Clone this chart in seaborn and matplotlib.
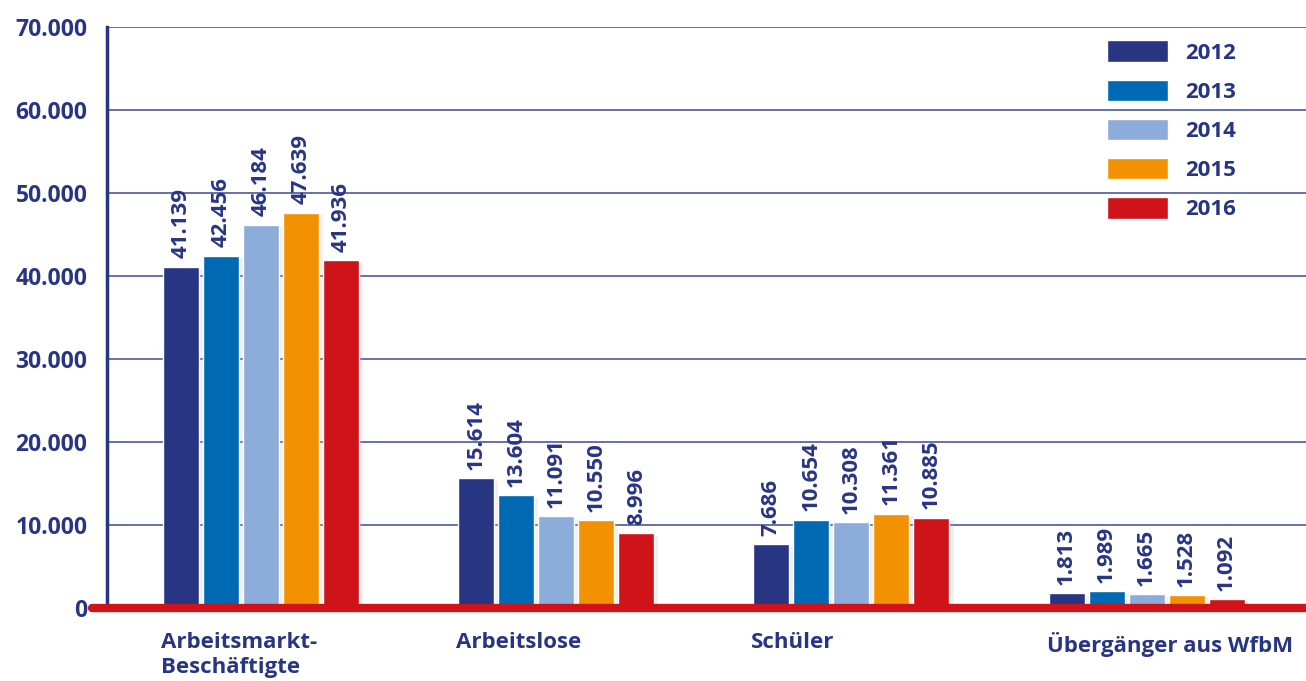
import numpy as np
import pandas as pd
import matplotlib
matplotlib.use('Agg')
import matplotlib.pyplot as plt
import matplotlib.patheffects as pe
import matplotlib.transforms as mtransforms
import seaborn as sns

categories = ['Arbeitsmarkt-\nBeschäftigte', 'Arbeitslose', 'Schüler', 'Übergänger aus WfbM']
years = ['2012', '2013', '2014', '2015', '2016']
values_2012 = [41139, 15614, 7686, 1813]
values_2013 = [42456, 13604, 10654, 1989]
values_2014 = [46184, 11091, 10308, 1665]
values_2015 = [47639, 10550, 11361, 1528]
values_2016 = [41936, 8996, 10885, 1092]
year_colors = ['#283583', '#0069b4', '#8cacd9', '#f39200', '#cf1419']
yticks = [0, 10000, 20000, 30000, 40000, 50000, 60000, 70000]

navy = '#283583'
red = '#cf1419'

def fmt(v):
    return f"{int(v):,}".replace(',', '.')

# Tabelle fuer seaborn
series = [values_2012, values_2013, values_2014, values_2015, values_2016]
rows = []
for y, vals in zip(years, series):
    for c, v in zip(categories, vals):
        rows.append({'Kategorie': c, 'Jahr': y, 'Wert': v})
df = pd.DataFrame(rows)

sns.set_style('white')
plt.rcParams['font.family'] = ['Open Sans', 'DejaVu Sans']
plt.rcParams['font.weight'] = 'bold'

fig = plt.figure(figsize=(13.06, 6.81), dpi=100)
ax = fig.add_axes([0.0819, 0.1072, 0.9181, 0.8532])

group_w = 0.678
sns.barplot(data=df, x='Kategorie', y='Wert', hue='Jahr', order=categories,
            hue_order=years, palette=year_colors, width=group_w, gap=0.1,
            saturation=1, ax=ax, zorder=3)

# sehr leichter Schatten neben den Balken
for p in ax.patches:
    p.set_path_effects([pe.SimplePatchShadow(offset=(3, -2), shadow_rgbFace='#b0b0b0', alpha=0.18),
                        pe.Normal()])

for cont, vals in zip(ax.containers, series):
    ax.bar_label(cont, labels=[fmt(v) for v in vals], rotation=90, padding=6,
                 color=navy, fontsize=16, fontweight='bold')

ax.set_ylim(0, 70000)
ax.set_xlim(-0.522, 3.54)
ax.set_yticks(yticks)
ax.set_yticklabels([fmt(t) for t in yticks], color=navy, fontsize=16.5, fontweight='bold')
ax.tick_params(axis='y', direction='out', length=11, width=2, color=navy, pad=3)
ax.tick_params(axis='x', length=0)
ax.set_xticks([])
ax.set_xlabel('')
ax.set_ylabel('')

ax.grid(axis='y', color='#5a64a3', linewidth=1.3, zorder=0)
ax.set_axisbelow(True)
for s in ['top', 'right', 'bottom']:
    ax.spines[s].set_visible(False)
ax.spines['left'].set_color(navy)
ax.spines['left'].set_linewidth(2.5)

# rote Grundlinie
ax.axhline(0, xmin=-0.0125, xmax=1, color=red, linewidth=6, clip_on=False, zorder=5)

# Kategoriebeschriftung linksbuendig unter jeder Gruppe
trans = mtransforms.blended_transform_factory(ax.transData, ax.transAxes)
for i, c in enumerate(categories):
    ax.text(i - group_w / 2, -0.042, c, transform=trans, ha='left', va='top',
            color=navy, fontsize=16, fontweight='bold', linespacing=1.25)

leg = ax.legend(loc='upper left', bbox_to_anchor=(0.834, 0.977), frameon=False,
                handlelength=2.75, handleheight=1.1, labelspacing=0.72,
                handletextpad=0.75, borderpad=0, borderaxespad=0,
                prop={'family': 'Open Sans', 'weight': 'bold', 'size': 16})
for t in leg.get_texts():
    t.set_color(navy)
for h in leg.legend_handles:
    h.set_path_effects([])

fig.savefig('out.png', dpi=100)
